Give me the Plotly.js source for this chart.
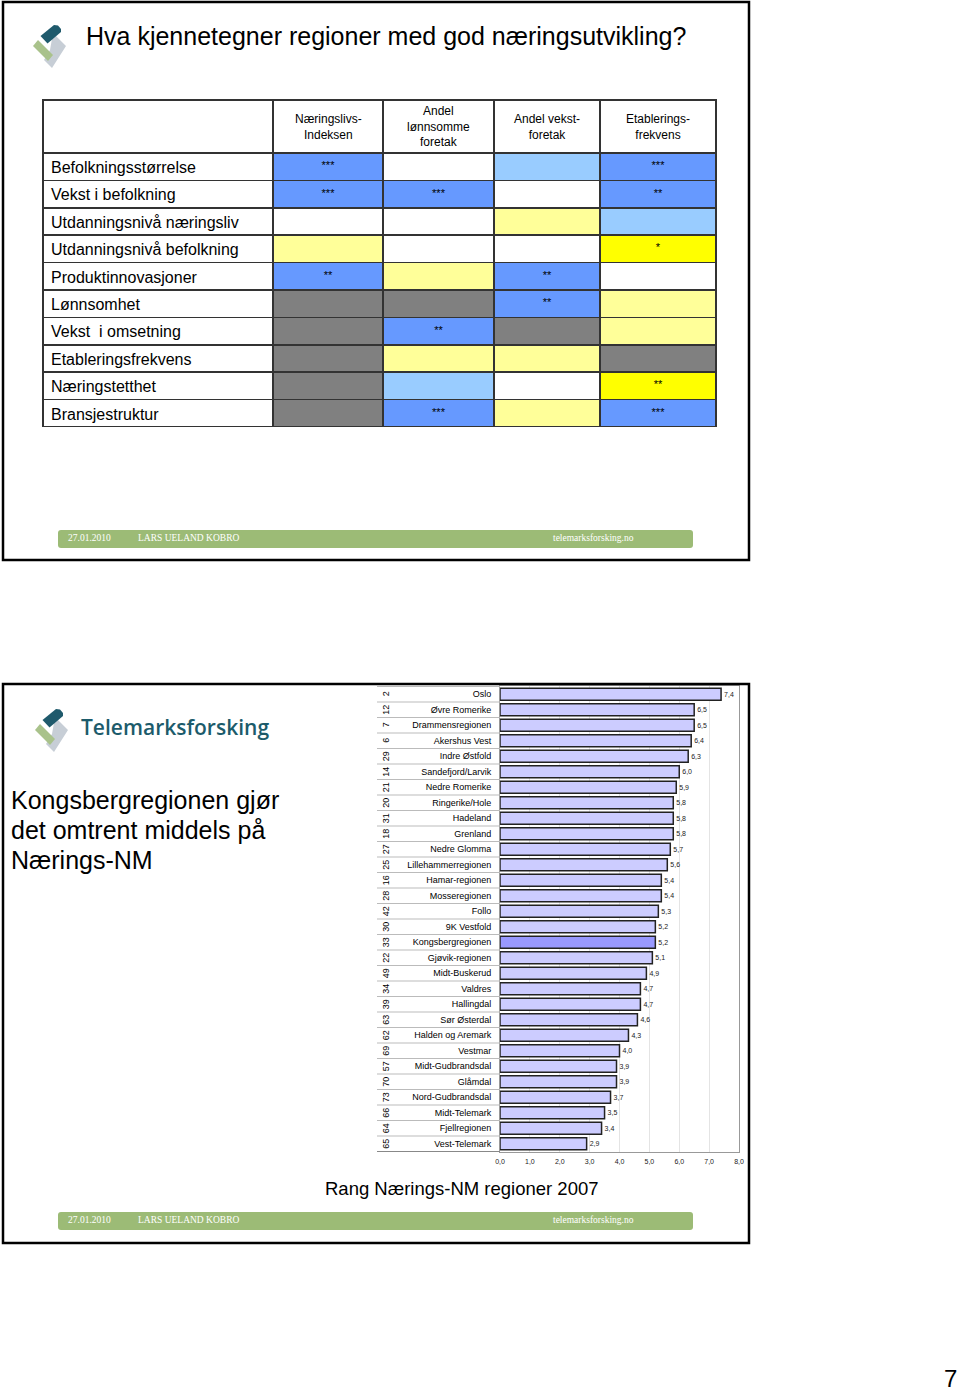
<!DOCTYPE html>
<html><head><meta charset="utf-8">
<script src="https://cdn.plot.ly/plotly-3.0.1.min.js"></script>
<style>html,body{margin:0;padding:0;background:#fff}#chart{width:960px;height:1394px}</style>
</head><body><div id="chart"></div>
<script>
// ---------- Slide 1 table data ----------
const tableRowLabels = ['Befolkningsstørrelse','Vekst i befolkning','Utdanningsnivå næringsliv','Utdanningsnivå befolkning','Produktinnovasjoner','Lønnsomhet','Vekst  i omsetning','Etableringsfrekvens','Næringstetthet','Bransjestruktur'];
const tableColumnHeaders = ['Næringslivs-<br>Indeksen','Andel<br>lønnsomme<br>foretak','Andel vekst-<br>foretak','Etablerings-<br>frekvens'];
// effect: 2 strong positive, 1 weak positive, 0 none, -1 weak negative, -2 strong negative, null not included
const effectIndeksen = [2,2,0,-1,2,null,null,null,null,null];
const starsIndeksen  = ['***','***','','','**','','','','',''];
const effectLonnsomme = [0,2,0,0,-1,null,2,-1,1,2];
const starsLonnsomme  = ['','***','','','','','**','','','***'];
const effectVekst = [1,0,-1,0,2,2,null,-1,0,-1];
const starsVekst  = ['','','','','**','**','','','',''];
const effectEtablering = [2,2,1,-2,0,-1,-1,null,-2,2];
const starsEtablering  = ['***','**','','*','','','','','**','***'];

// ---------- Slide 2 bar chart data ----------
const regions = ['Oslo','Øvre Romerike','Drammensregionen','Akershus Vest','Indre Østfold','Sandefjord/Larvik','Nedre Romerike','Ringerike/Hole','Hadeland','Grenland','Nedre Glomma','Lillehammerregionen','Hamar-regionen','Mosseregionen','Follo','9K Vestfold','Kongsbergregionen','Gjøvik-regionen','Midt-Buskerud','Valdres','Hallingdal','Sør Østerdal','Halden og Aremark','Vestmar','Midt-Gudbrandsdal','Glåmdal','Nord-Gudbrandsdal','Midt-Telemark','Fjellregionen','Vest-Telemark'];
const scores = [7.4,6.5,6.5,6.4,6.3,6.0,5.9,5.8,5.8,5.8,5.7,5.6,5.4,5.4,5.3,5.2,5.2,5.1,4.9,4.7,4.7,4.6,4.3,4.0,3.9,3.9,3.7,3.5,3.4,2.9];
const ranks = ['2','12','7','6','29','14','21','20','31','18','27','25','16','28','42','30','33','22','49','34','39','63','62','69','57','70','73','66','64','65'];
const highlightRegion = 'Kongsbergregionen';

// ---------- helpers ----------
const W = 960, H = 1394;
const X = p => p / W;
const Y = p => 1 - p / H;
const FONT = 'Liberation Sans, Arial, sans-serif';
const SERIF = 'Liberation Serif, Times New Roman, serif';

function poly(pts, dx, dy) {
  return pts.map((p, i) => (i ? 'L' : 'M') + X(p[0] + dx) + ',' + Y(p[1] + dy)).join(' ') + ' Z';
}
function roundRect(x0, y0, x1, y1, r) {
  return 'M' + X(x0 + r) + ',' + Y(y0) +
    ' L' + X(x1 - r) + ',' + Y(y0) + ' Q' + X(x1) + ',' + Y(y0) + ' ' + X(x1) + ',' + Y(y0 + r) +
    ' L' + X(x1) + ',' + Y(y1 - r) + ' Q' + X(x1) + ',' + Y(y1) + ' ' + X(x1 - r) + ',' + Y(y1) +
    ' L' + X(x0 + r) + ',' + Y(y1) + ' Q' + X(x0) + ',' + Y(y1) + ' ' + X(x0) + ',' + Y(y1 - r) +
    ' L' + X(x0) + ',' + Y(y0 + r) + ' Q' + X(x0) + ',' + Y(y0) + ' ' + X(x0 + r) + ',' + Y(y0) + ' Z';
}
function ann(text, x, y, size, opts) {
  return Object.assign({
    text: text, xref: 'paper', yref: 'paper', x: X(x), y: Y(y),
    xanchor: 'left', yanchor: 'middle', showarrow: false,
    font: {family: FONT, size: size, color: '#000'}
  }, opts || {});
}

const effectColor = v => v === null ? '#808080' : ({'2': '#6699FF', '1': '#99CCFF', '0': '#FFFFFF', '-1': '#FFFF99', '-2': '#FFFF00'})[String(v)];

// ---------- traces ----------
const colWidths = [230, 110, 111, 106, 116];
const tableX0 = 43;
const tableTrace = {
  type: 'table',
  domain: {x: [X(43), X(716)], y: [Y(428), Y(100)]},
  columnwidth: colWidths,
  header: {
    values: ['', '', '', '', ''],
    height: 53,
    font: {family: FONT, size: 12, color: '#000'},
    fill: {color: '#FFFFFF'},
    line: {color: '#333', width: 1.5}
  },
  cells: {
    values: [tableRowLabels, starsIndeksen, starsLonnsomme, starsVekst, starsEtablering],
    align: ['left', 'center', 'center', 'center', 'center'],
    height: 27.4,
    font: {family: FONT, size: [16, 11, 11, 11, 11], color: '#000'},
    fill: {color: [tableRowLabels.map(() => '#FFFFFF'),
                   effectIndeksen.map(effectColor), effectLonnsomme.map(effectColor),
                   effectVekst.map(effectColor), effectEtablering.map(effectColor)]},
    line: {color: '#333', width: 1.5}
  }
};

const barTrace = {
  type: 'bar',
  orientation: 'h',
  x: scores,
  y: regions,
  xaxis: 'x', yaxis: 'y',
  marker: {
    color: regions.map(r => r === highlightRegion ? '#9999FF' : '#CCCCFF'),
    line: {color: '#222', width: 1.5}
  },
  texttemplate: '%{x:.1f}',
  textposition: 'outside',
  textfont: {family: FONT, size: 7, color: '#222'},
  cliponaxis: false,
  constraintext: 'none',
  hoverinfo: 'skip'
};

// ---------- decorations ----------
const shapes = [];
shapes.push({type: 'rect', xref: 'paper', yref: 'paper', x0: X(3), x1: X(749), y0: Y(560), y1: Y(2), line: {color: '#000', width: 2.5}, fillcolor: 'rgba(0,0,0,0)'});
shapes.push({type: 'rect', xref: 'paper', yref: 'paper', x0: X(3), x1: X(749), y0: Y(1243), y1: Y(684), line: {color: '#000', width: 2.5}, fillcolor: 'rgba(0,0,0,0)'});
shapes.push({type: 'path', xref: 'paper', yref: 'paper', path: roundRect(58, 530, 693, 548, 3), fillcolor: '#9CBB76', line: {width: 0}});
shapes.push({type: 'path', xref: 'paper', yref: 'paper', path: roundRect(58, 1212, 693, 1230, 3), fillcolor: '#9CBB76', line: {width: 0}});
function addLogo(dx, dy) {
  shapes.push({type: 'path', xref: 'paper', yref: 'paper', path: poly([[53, 33], [66, 46], [52, 68], [44, 60], [50, 50]], dx, dy), fillcolor: '#B4BEC8', opacity: 0.75, line: {width: 0}});
  shapes.push({type: 'path', xref: 'paper', yref: 'paper', path: poly([[33, 46], [38, 40], [53, 55], [48, 61]], dx, dy), fillcolor: '#A9C28B', line: {width: 0}});
  shapes.push({type: 'path', xref: 'paper', yref: 'paper', path: poly([[40.5, 36], [54, 25], [58, 25.5], [61, 29], [61, 32], [47.5, 43.5]], dx, dy), fillcolor: '#1F5A6C', line: {width: 0}});
}
addLogo(0, 0);
addLogo(2, 684);
for (let i = 0; i <= regions.length; i++) {
  shapes.push({type: 'line', xref: 'paper', yref: 'y', x0: X(377), x1: X(500), y0: i - 0.5, y1: i - 0.5, line: {color: i === regions.length ? '#888' : '#BBBBBB', width: 1}});
}

const annotations = [
  ann('Hva kjennetegner regioner med god næringsutvikling?', 84, 36, 25),
  ann('27.01.2010', 66, 538, 9.5, {font: {family: SERIF, size: 9.5, color: '#FFFFFF'}}),
  ann('LARS UELAND KOBRO', 136, 538, 9.5, {font: {family: SERIF, size: 9.5, color: '#FFFFFF'}}),
  ann('telemarksforsking.no', 551, 538, 9.5, {font: {family: SERIF, size: 9.5, color: '#FFFFFF'}}),
  ann('27.01.2010', 66, 1220, 9.5, {font: {family: SERIF, size: 9.5, color: '#FFFFFF'}}),
  ann('LARS UELAND KOBRO', 136, 1220, 9.5, {font: {family: SERIF, size: 9.5, color: '#FFFFFF'}}),
  ann('telemarksforsking.no', 551, 1220, 9.5, {font: {family: SERIF, size: 9.5, color: '#FFFFFF'}}),
  ann('Telemarksforsking', 79, 727, 21, {font: {family: 'Open Sans, sans-serif', size: 21, color: '#1C5B6B', weight: 600}}),
  ann('Kongsbergregionen gjør', 9, 800, 25),
  ann('det omtrent middels på', 9, 830, 25),
  ann('Nærings-NM', 9, 860, 25),
  ann('Rang Nærings-NM regioner 2007', 462, 1188, 18.5, {xanchor: 'center'}),
  ann('7', 950, 1394, 24, {xanchor: 'center', yanchor: 'bottom'})
];
// column headers of the table, centred over each data column
let cx = tableX0 + colWidths[0];
tableColumnHeaders.forEach((h, i) => {
  const w = colWidths[i + 1];
  annotations.push(ann(h, cx + w / 2, 127, 12, {xanchor: 'center', align: 'center'}));
  cx += w;
});
regions.forEach((r, i) => {
  annotations.push({text: ranks[i], xref: 'paper', yref: 'y', x: X(386), y: r, textangle: -90,
    xanchor: 'center', yanchor: 'middle', showarrow: false, font: {family: FONT, size: 9, color: '#000'}});
});

const layout = {
  width: W, height: H,
  margin: {l: 0, r: 0, t: 0, b: 0},
  paper_bgcolor: '#FFFFFF', plot_bgcolor: '#FFFFFF',
  showlegend: false,
  separators: ', ',
  bargap: 0.22,
  xaxis: {
    domain: [X(500), X(739)], anchor: 'y',
    range: [0, 8], dtick: 1, tick0: 0, tickformat: '.1f',
    showgrid: true, gridcolor: '#E4E4E4', gridwidth: 1,
    zeroline: false, showline: true, linecolor: '#999', linewidth: 1, mirror: true,
    ticks: '', ticklabelstandoff: 3,
    tickfont: {family: FONT, size: 7, color: '#222'}, fixedrange: true
  },
  yaxis: {
    domain: [Y(1152), Y(686)], anchor: 'x',
    type: 'category', categoryarray: regions, categoryorder: 'array', autorange: 'reversed',
    showgrid: false, zeroline: false, showline: true, linecolor: '#999', linewidth: 1, mirror: true,
    ticks: '', ticklabelstandoff: 6,
    tickfont: {family: FONT, size: 9, color: '#000'}, fixedrange: true
  },
  shapes: shapes,
  annotations: annotations
};

Plotly.newPlot('chart', [tableTrace, barTrace], layout, {displayModeBar: false, staticPlot: true});
</script>
</body></html>
